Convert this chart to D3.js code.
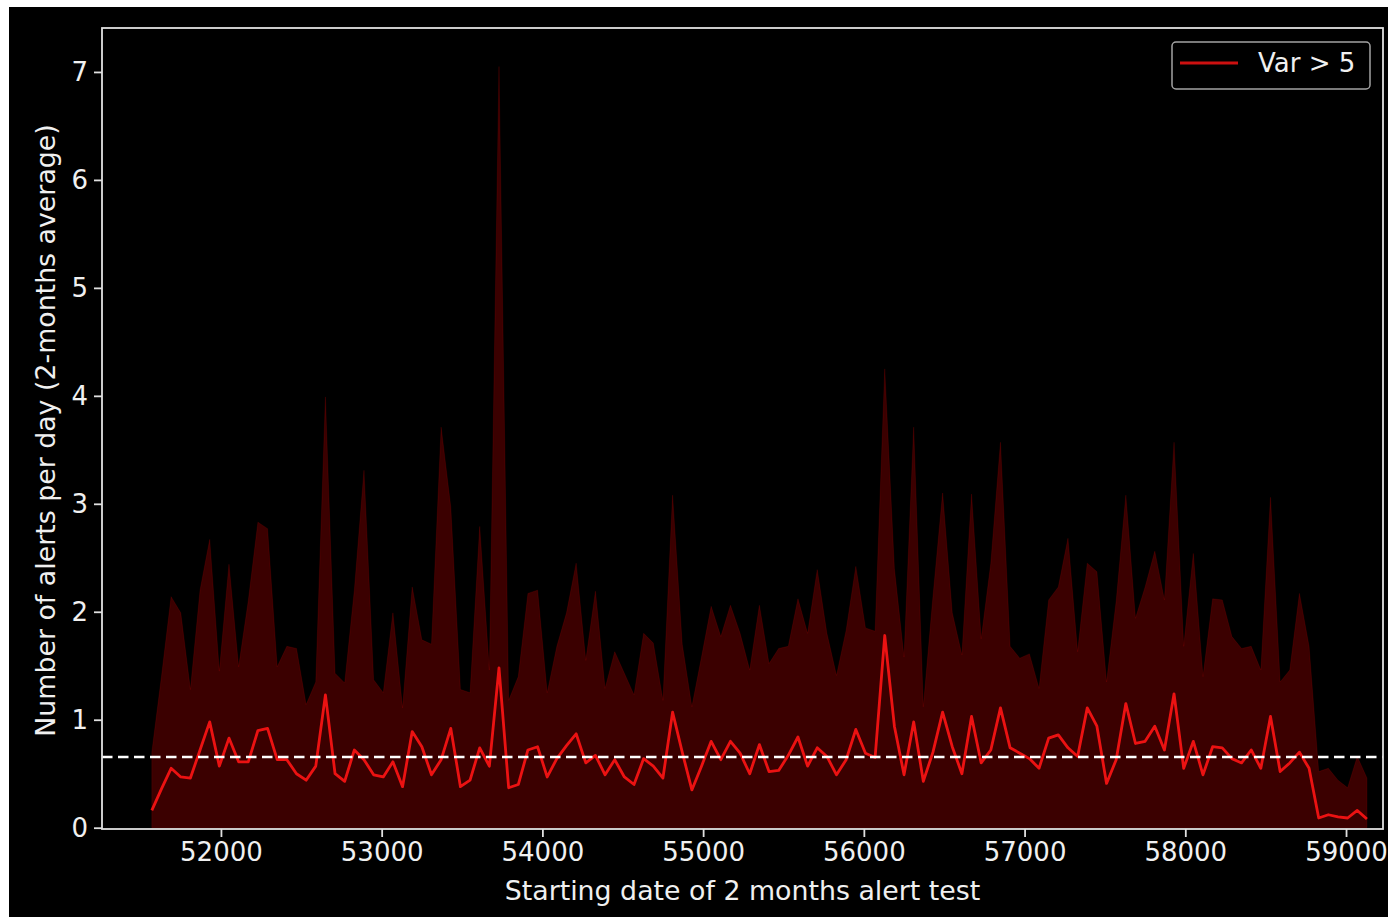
<!DOCTYPE html>
<html>
<head>
<meta charset="utf-8">
<script src="https://cdn.jsdelivr.net/npm/d3@7"></script>
<style>
  body { margin: 0; background: #ffffff; }
  text { font-family: "DejaVu Sans", sans-serif; }
</style>
</head>
<body>
<div id="chart"></div>
<script>

// starting date (MJD) of each 2 months alert test
let dates = [
  51570,51630,51690,51750,51810,51870,51930,51990,52050,52110,
  52170,52230,52290,52350,52410,52470,52530,52590,52650,52710,
  52770,52830,52890,52950,53010,53070,53130,53190,53250,53310,
  53370,53430,53490,53550,53610,53670,53730,53790,53850,53910,
  53970,54030,54090,54150,54210,54270,54330,54390,54450,54510,
  54570,54630,54690,54750,54810,54870,54930,54990,55050,55110,
  55170,55230,55290,55350,55410,55470,55530,55590,55650,55710,
  55770,55830,55890,55950,56010,56070,56130,56190,56250,56310,
  56370,56430,56490,56550,56610,56670,56730,56790,56850,56910,
  56970,57030,57090,57150,57210,57270,57330,57390,57450,57510,
  57570,57630,57690,57750,57810,57870,57930,57990,58050,58110,
  58170,58230,58290,58350,58410,58470,58530,58590,58650,58710,
  58770,58830,58890,58950,59010,59070,59130
];

// mean number of alerts per day (red line)
let alerts = [
  0.16,0.36,0.55,0.47,0.46,0.72,0.98,0.57,0.83,0.61,
  0.61,0.90,0.92,0.63,0.63,0.50,0.44,0.57,1.23,0.50,
  0.43,0.72,0.63,0.49,0.47,0.61,0.38,0.89,0.75,0.49,
  0.63,0.92,0.38,0.44,0.74,0.57,1.48,0.37,0.40,0.72,
  0.75,0.47,0.64,0.76,0.87,0.60,0.67,0.49,0.63,0.47,
  0.40,0.64,0.57,0.46,1.07,0.70,0.35,0.57,0.80,0.63,
  0.80,0.69,0.50,0.77,0.52,0.53,0.67,0.84,0.57,0.74,
  0.66,0.49,0.63,0.91,0.69,0.65,1.78,0.94,0.49,0.98,
  0.43,0.70,1.07,0.75,0.50,1.03,0.60,0.72,1.11,0.74,
  0.69,0.64,0.55,0.83,0.86,0.74,0.66,1.11,0.94,0.41,
  0.63,1.15,0.78,0.80,0.94,0.72,1.24,0.55,0.80,0.49,
  0.75,0.74,0.64,0.60,0.72,0.55,1.03,0.52,0.60,0.70,
  0.55,0.09,0.12,0.10,0.09,0.16,0.08
];

// upper edge of the shaded band
let upper = [
  0.70,1.40,2.14,1.99,1.28,2.20,2.67,1.45,2.44,1.49,
  2.10,2.83,2.77,1.49,1.68,1.66,1.14,1.35,3.99,1.43,
  1.34,2.20,3.31,1.37,1.25,1.99,1.11,2.23,1.74,1.70,
  3.71,2.97,1.28,1.25,2.79,1.46,7.05,1.18,1.40,2.17,
  2.20,1.25,1.68,1.99,2.45,1.55,2.19,1.29,1.63,1.43,
  1.23,1.80,1.71,1.18,3.08,1.70,1.12,1.58,2.05,1.77,
  2.06,1.80,1.46,2.06,1.52,1.66,1.68,2.12,1.80,2.39,
  1.80,1.41,1.83,2.42,1.85,1.82,4.25,2.40,1.58,3.71,
  1.12,2.14,3.10,1.99,1.60,3.09,1.75,2.45,3.57,1.68,
  1.57,1.61,1.29,2.11,2.23,2.68,1.63,2.45,2.37,1.35,
  2.10,3.08,1.94,2.23,2.56,2.11,3.57,1.68,2.54,1.40,
  2.12,2.11,1.77,1.66,1.68,1.46,3.06,1.35,1.46,2.17,
  1.68,0.52,0.55,0.44,0.37,0.66,0.46
];

let meanLevel = 0.655;
let xTicks = [52000, 53000, 54000, 55000, 56000, 57000, 58000, 59000];
let yTicks = [0, 1, 2, 3, 4, 5, 6, 7];
let seriesName = "Var > 5";

let data = dates.map(function(d, i) { return {date: d, mean: alerts[i], up: upper[i]}; });

// set the dimensions and margins of the graph
let W = 1388, H = 917;
let margin = {top: 28, right: 5, bottom: 88, left: 102},
  width = W - margin.left - margin.right,
  height = H - margin.top - margin.bottom;

let svg = d3.select("#chart")
  .append("svg")
    .attr("width", W)
    .attr("height", H);

// black figure background (screenshot has a thin white edge top/left)
svg.append("rect")
  .attr("x", 9).attr("y", 7)
  .attr("width", W - 9).attr("height", H - 7)
  .attr("fill", "#000000");

let g = svg.append("g")
  .attr("transform", "translate(" + margin.left + "," + margin.top + ")");

let x = d3.scaleLinear().domain([51260, 59230]).range([0, width]);
let y = d3.scaleLinear().domain([-0.012, 7.407]).range([height, 0]);

// shaded band
let area = d3.area()
  .x(function(d) { return x(d.date); })
  .y0(function(d) { return y(0); })
  .y1(function(d) { return y(d.up); });

g.append("path")
  .datum(data)
  .attr("d", area)
  .attr("fill", "#ff0000")
  .attr("fill-opacity", 0.23)
  .attr("stroke", "#ff0000")
  .attr("stroke-opacity", 0.12)
  .attr("stroke-width", 1);

// mean line
let line = d3.line()
  .x(function(d) { return x(d.date); })
  .y(function(d) { return y(d.mean); });

g.append("path")
  .datum(data)
  .attr("d", line)
  .attr("fill", "none")
  .attr("stroke", "#ff1414")
  .attr("stroke-opacity", 0.9)
  .attr("stroke-width", 2.8)
  .attr("stroke-linejoin", "round");

// dashed reference level
g.append("line")
  .attr("x1", 0).attr("x2", width)
  .attr("y1", y(meanLevel)).attr("y2", y(meanLevel))
  .attr("stroke", "#ffffff")
  .attr("stroke-width", 2.5)
  .attr("stroke-dasharray", "10.5,5.5");

// axes
let xAxis = g.append("g")
  .attr("transform", "translate(0," + height + ")")
  .call(d3.axisBottom(x).tickValues(xTicks).tickFormat(d3.format("d")).tickSize(8).tickPadding(6).tickSizeOuter(0));
let yAxis = g.append("g")
  .call(d3.axisLeft(y).tickValues(yTicks).tickFormat(d3.format("d")).tickSize(8).tickPadding(6).tickSizeOuter(0));

[xAxis, yAxis].forEach(function(a) {
  a.select(".domain").remove();
  a.selectAll(".tick line").attr("stroke", "#e0e0e0").attr("stroke-width", 1.8);
  a.selectAll(".tick text").attr("fill", "#f0f0f0").style("font-size", "26px");
});

// frame
g.append("rect")
  .attr("x", 0).attr("y", 0)
  .attr("width", width).attr("height", height)
  .attr("fill", "none")
  .attr("stroke", "#e0e0e0")
  .attr("stroke-width", 1.8);

// axis titles
svg.append("text")
  .attr("x", margin.left + width / 2)
  .attr("y", 900)
  .attr("text-anchor", "middle")
  .attr("fill", "#f0f0f0")
  .style("font-size", "26.8px")
  .text("Starting date of 2 months alert test");

svg.append("text")
  .attr("transform", "translate(55," + (margin.top + height / 2 + 2) + ") rotate(-90)")
  .attr("text-anchor", "middle")
  .attr("fill", "#f0f0f0")
  .style("font-size", "26.8px")
  .text("Number of alerts per day (2-months average)");

// legend
svg.append("rect")
  .attr("x", 1172).attr("y", 42)
  .attr("width", 198).attr("height", 47)
  .attr("rx", 4)
  .attr("fill", "#000000")
  .attr("stroke", "#a3a3a3")
  .attr("stroke-width", 1.5);
svg.append("line")
  .attr("x1", 1180).attr("x2", 1238)
  .attr("y1", 63).attr("y2", 63)
  .attr("stroke", "#ff1414")
  .attr("stroke-opacity", 0.8)
  .attr("stroke-width", 3);
svg.append("text")
  .attr("x", 1258).attr("y", 72)
  .attr("fill", "#f0f0f0")
  .style("font-size", "26px")
  .text(seriesName);

</script>
</body>
</html>
